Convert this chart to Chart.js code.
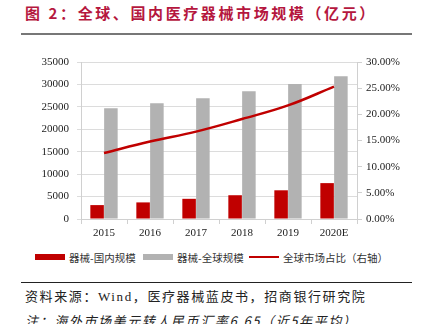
<!DOCTYPE html>
<html>
<head>
<meta charset="utf-8">
<script src="https://cdn.jsdelivr.net/npm/chart.js@4"></script>
<style>
  body { margin: 0; width: 422px; height: 324px; background: #fff; overflow: hidden; position: relative; font-family: "Noto Sans CJK SC", sans-serif; }
  #title { position: absolute; left: 25px; top: 2px; font-size: 15px; font-weight: bold; color: #b5173e; letter-spacing: 2.6px; white-space: nowrap; }
  #titleRule { position: absolute; left: 21px; top: 33px; width: 391px; height: 2px; background: #777; }
  #chartBox { position: absolute; left: 0; top: 40px; width: 422px; height: 205px; }
  #legend { position: absolute; top: 248px; left: 35px; font-size: 10.5px; color: #333; white-space: nowrap; }
  #legend span { display: inline-block; vertical-align: middle; }
  .sw { width: 30px; margin-right: 4px; }
  #footRule { position: absolute; left: 21px; top: 282px; width: 391px; height: 1px; background: #222; }
  #source { position: absolute; left: 25px; top: 286px; font-size: 13px; color: #222; white-space: nowrap; letter-spacing: 1.6px; }
  #note { position: absolute; left: 25px; top: 311px; font-size: 13px; color: #222; white-space: nowrap; font-style: italic; letter-spacing: 1.6px; }
</style>
</head>
<body>
<div id="title">图 2：全球、国内医疗器械市场规模（亿元）</div>
<div id="titleRule"></div>
<div id="chartBox"><canvas id="myChart" width="422" height="205"></canvas></div>
<div id="legend">
  <span class="sw" style="height:6px;background:#c00000"></span><span style="margin-right:5px">器械-国内规模</span>
  <span class="sw" style="height:6px;background:#b2b2b2"></span><span style="margin-right:3px">器械-全球规模</span>
  <span class="sw" style="height:2px;background:#c00000"></span><span>全球市场占比（右轴）</span>
</div>
<div id="footRule"></div>
<div id="source">资料来源：<span style="font-family:'Liberation Serif'">Wind</span>，医疗器械蓝皮书，招商银行研究院</div>
<div id="note">注：海外市场美元转人民币汇率6.65（近5年平均）</div>
<script>
// categories and series
const years = ['2015', '2016', '2017', '2018', '2019', '2020E'];
const domesticSize = [3100, 3700, 4500, 5300, 6400, 8000];
const globalSize = [24700, 25800, 26900, 28500, 30100, 31800];
const globalShare = [0.126, 0.148, 0.167, 0.191, 0.217, 0.253];

const tickFont = { family: 'Liberation Serif', size: 11 };
const ctx = document.getElementById('myChart').getContext('2d');

const myChart = new Chart(ctx, {
    type: 'bar',
    data: {
        labels: years,
        datasets: [
            {
                type: 'line',
                label: '全球市场占比（右轴）',
                data: globalShare,
                yAxisID: 'y1',
                borderColor: '#c00000',
                borderWidth: 2.5,
                pointRadius: 0,
                tension: 0.4,
                fill: false
            },
            {
                label: '器械-国内规模',
                data: domesticSize,
                backgroundColor: '#c00000',
                categoryPercentage: 0.6,
                barPercentage: 0.98
            },
            {
                label: '器械-全球规模',
                data: globalSize,
                backgroundColor: '#b2b2b2',
                categoryPercentage: 0.6,
                barPercentage: 0.98
            }
        ]
    },
    options: {
        responsive: false,
        animation: false,
        layout: { padding: { top: 22 } },
        plugins: { legend: { display: false }, tooltip: { enabled: false } },
        scales: {
            x: {
                grid: { display: true, drawOnChartArea: false, offset: true, tickLength: 5, color: '#d0d0d0' },
                border: { color: '#d0d0d0' },
                ticks: { font: tickFont, color: '#222', padding: 3 },
                afterFit: scale => { scale.height = 26; }
            },
            y: {
                min: 0,
                max: 35000,
                ticks: { stepSize: 5000, font: tickFont, color: '#222', padding: 8, callback: v => String(v) },
                grid: { color: '#dcdcdc', tickLength: 4 },
                border: { color: '#d0d0d0' },
                afterFit: scale => { scale.width = 81; }
            },
            y1: {
                position: 'right',
                min: 0,
                max: 0.3,
                ticks: {
                    stepSize: 0.05,
                    font: tickFont,
                    color: '#222',
                    padding: 4,
                    callback: v => (v * 100).toFixed(2) + '%'
                },
                grid: { drawOnChartArea: false, tickLength: 5, color: '#d0d0d0' },
                border: { color: '#d0d0d0' },
                afterFit: scale => { scale.width = 65; }
            }
        }
    }
});
</script>
</body>
</html>
